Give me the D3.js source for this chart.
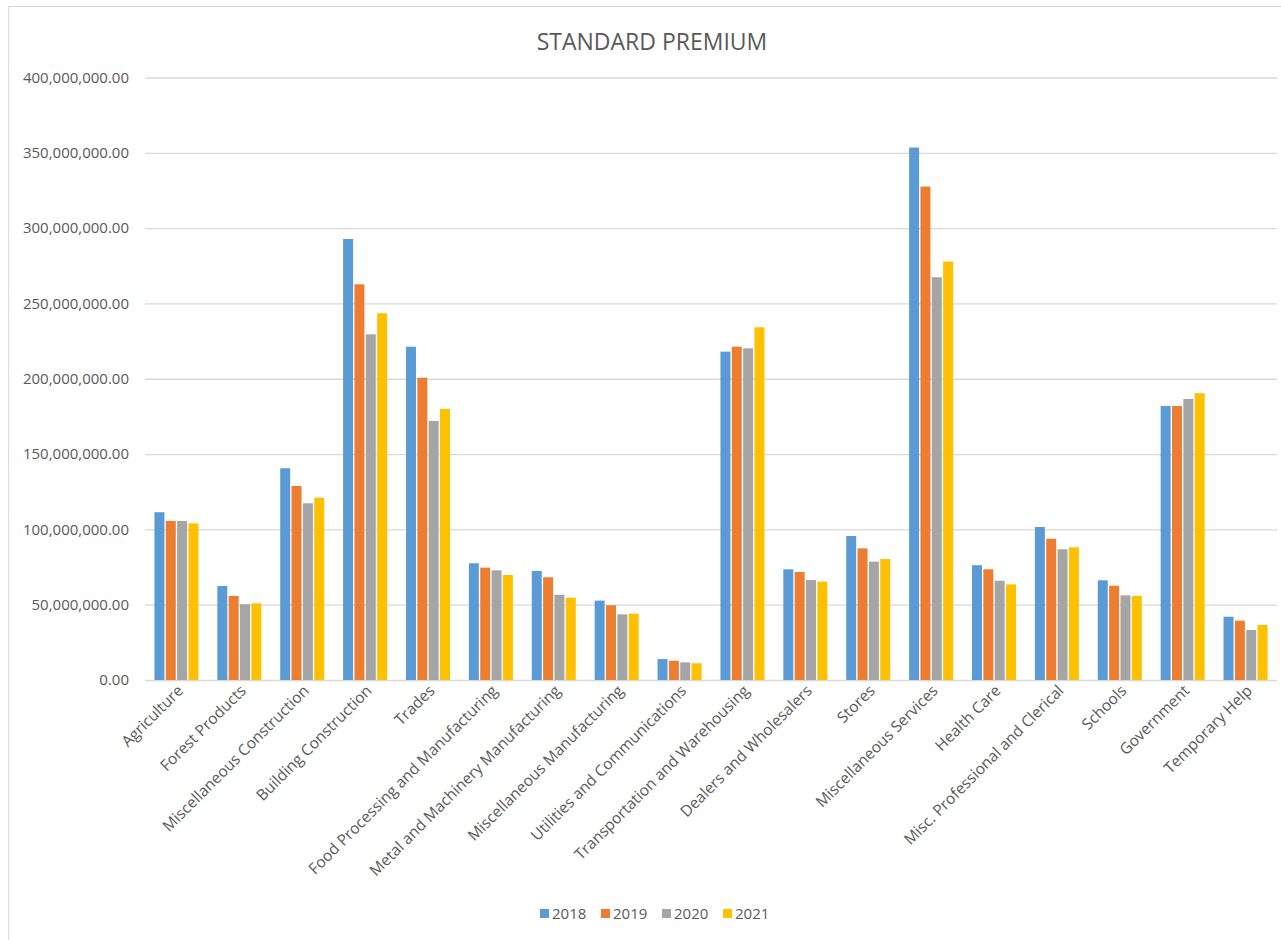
<!DOCTYPE html>
<html>
<head>
<meta charset="utf-8">
<script src="https://cdnjs.cloudflare.com/ajax/libs/d3/7.8.5/d3.min.js"></script>
<style>
  body { margin: 0; background: #fff; }
  text { font-family: "Open Sans", sans-serif; fill: #595959; }
  .grid line { stroke: #d9d9d9; }
  .grid path { stroke: none; }
</style>
</head>
<body>
<div id="chart"></div>
<script>
// data (values in millions of dollars)
var categories = ["Agriculture", "Forest Products", "Miscellaneous Construction", "Building Construction",
  "Trades", "Food Processing and Manufacturing", "Metal and Machinery Manufacturing",
  "Miscellaneous Manufacturing", "Utilities and Communications", "Transportation and Warehousing",
  "Dealers and Wholesalers", "Stores", "Miscellaneous Services", "Health Care",
  "Misc. Professional and Clerical", "Schools", "Government", "Temporary Help"];
var years = ["2018", "2019", "2020", "2021"];
var colors = ["#5b9bd5", "#ed7d31", "#a5a5a5", "#ffc000"];

var v2018 = [111.4, 62.4, 140.6, 292.8, 221.3, 77.5, 72.4, 52.7, 13.9, 218.0, 73.5, 95.6, 353.5, 76.2, 101.6, 66.2, 181.9, 42.0];
var v2019 = [105.6, 55.8, 128.8, 262.7, 200.7, 74.6, 68.2, 49.6, 12.8, 221.3, 71.7, 87.4, 327.6, 73.5, 93.8, 62.6, 181.9, 39.4];
var v2020 = [105.6, 50.3, 117.3, 229.5, 172.0, 72.8, 56.6, 43.6, 11.7, 220.2, 66.4, 78.6, 267.4, 65.9, 86.8, 56.2, 186.6, 33.2];
var v2021 = [104.0, 50.9, 121.0, 243.5, 180.0, 69.7, 54.6, 44.0, 11.1, 234.2, 65.3, 80.3, 277.8, 63.5, 88.1, 55.8, 190.4, 36.5];
var yTicks = [0, 50e6, 100e6, 150e6, 200e6, 250e6, 300e6, 350e6, 400e6];

var series = [v2018, v2019, v2020, v2021];
var data = categories.map(function(c, i) {
  return { cat: c, vals: years.map(function(y, j) { return { year: y, value: series[j][i] * 1e6, color: colors[j] }; }) };
});

var W = 1281, H = 940;
var margin = {top: 77.5, left: 145, right: 4, bottom: 260};

var svg = d3.select("#chart").append("svg")
    .attr("width", W)
    .attr("height", H);

// chart frame (right and bottom edges fall outside the picture)
svg.append("rect")
    .attr("x", 8.5).attr("y", 6.5)
    .attr("width", W).attr("height", H)
    .attr("fill", "#fff")
    .attr("stroke", "#d9d9d9");

var x0 = d3.scaleBand().domain(categories)
    .range([margin.left, W - margin.right])
    .paddingInner(0.3).paddingOuter(0.15);
var x1 = d3.scaleBand().domain(years)
    .range([0, x0.bandwidth()])
    .paddingInner(0.12);
var y = d3.scaleLinear().domain([0, 400e6]).range([680, margin.top]);

var fmt = d3.format(",.2f");

// gridlines
svg.append("g")
    .attr("class", "grid")
    .attr("transform", "translate(" + margin.left + ",0)")
    .call(d3.axisRight(y).tickValues(yTicks).tickSize(W - margin.right - margin.left).tickFormat(""))
    .call(function(g) { g.selectAll("line").attr("stroke-width", 1.3); });

// y labels
svg.append("g")
    .attr("transform", "translate(" + 129 + ",0)")
    .call(d3.axisLeft(y).tickValues(yTicks).tickSize(0).tickPadding(0).tickFormat(fmt))
    .call(function(g) {
      g.select(".domain").remove();
      g.selectAll("text").attr("font-size", "15px").attr("fill", "#595959")
        .attr("font-family", "'Open Sans', sans-serif");
    });

// bars
var groups = svg.selectAll(".grp")
    .data(data)
    .enter().append("g")
    .attr("class", "grp")
    .attr("transform", function(d) { return "translate(" + x0(d.cat) + ",0)"; });

groups.selectAll("rect")
    .data(function(d) { return d.vals; })
    .enter().append("rect")
    .attr("x", function(d) { return x1(d.year); })
    .attr("y", function(d) { return y(d.value); })
    .attr("width", x1.bandwidth())
    .attr("height", function(d) { return y(0) - y(d.value); })
    .attr("fill", function(d) { return d.color; });

// x labels
svg.append("g")
    .attr("transform", "translate(0,684)")
    .call(d3.axisBottom(x0).tickSize(0).tickPadding(0))
    .call(function(g) {
      g.select(".domain").remove();
      g.selectAll("text")
        .attr("font-size", "15.5px")
        .attr("fill", "#595959")
        .attr("font-family", "'Open Sans', sans-serif")
        .attr("text-anchor", "end")
        .attr("dy", "0.7em")
        .attr("transform", "rotate(-45)");
    });

// title
svg.append("text")
    .attr("x", 652)
    .attr("y", 50)
    .attr("text-anchor", "middle")
    .attr("font-size", "23px")
    .text("STANDARD PREMIUM");

// legend
var legend = svg.append("g").attr("transform", "translate(540,914)");
var item = legend.selectAll(".leg")
    .data(years)
    .enter().append("g")
    .attr("class", "leg")
    .attr("transform", function(d, i) { return "translate(" + (i * 61) + ",0)"; });
item.append("rect")
    .attr("x", 0).attr("y", -5)
    .attr("width", 9).attr("height", 9)
    .attr("fill", function(d, i) { return colors[i]; });
item.append("text")
    .attr("x", 12).attr("y", 0)
    .attr("dy", "0.35em")
    .attr("font-size", "15px")
    .text(function(d) { return d; });
</script>
</body>
</html>
